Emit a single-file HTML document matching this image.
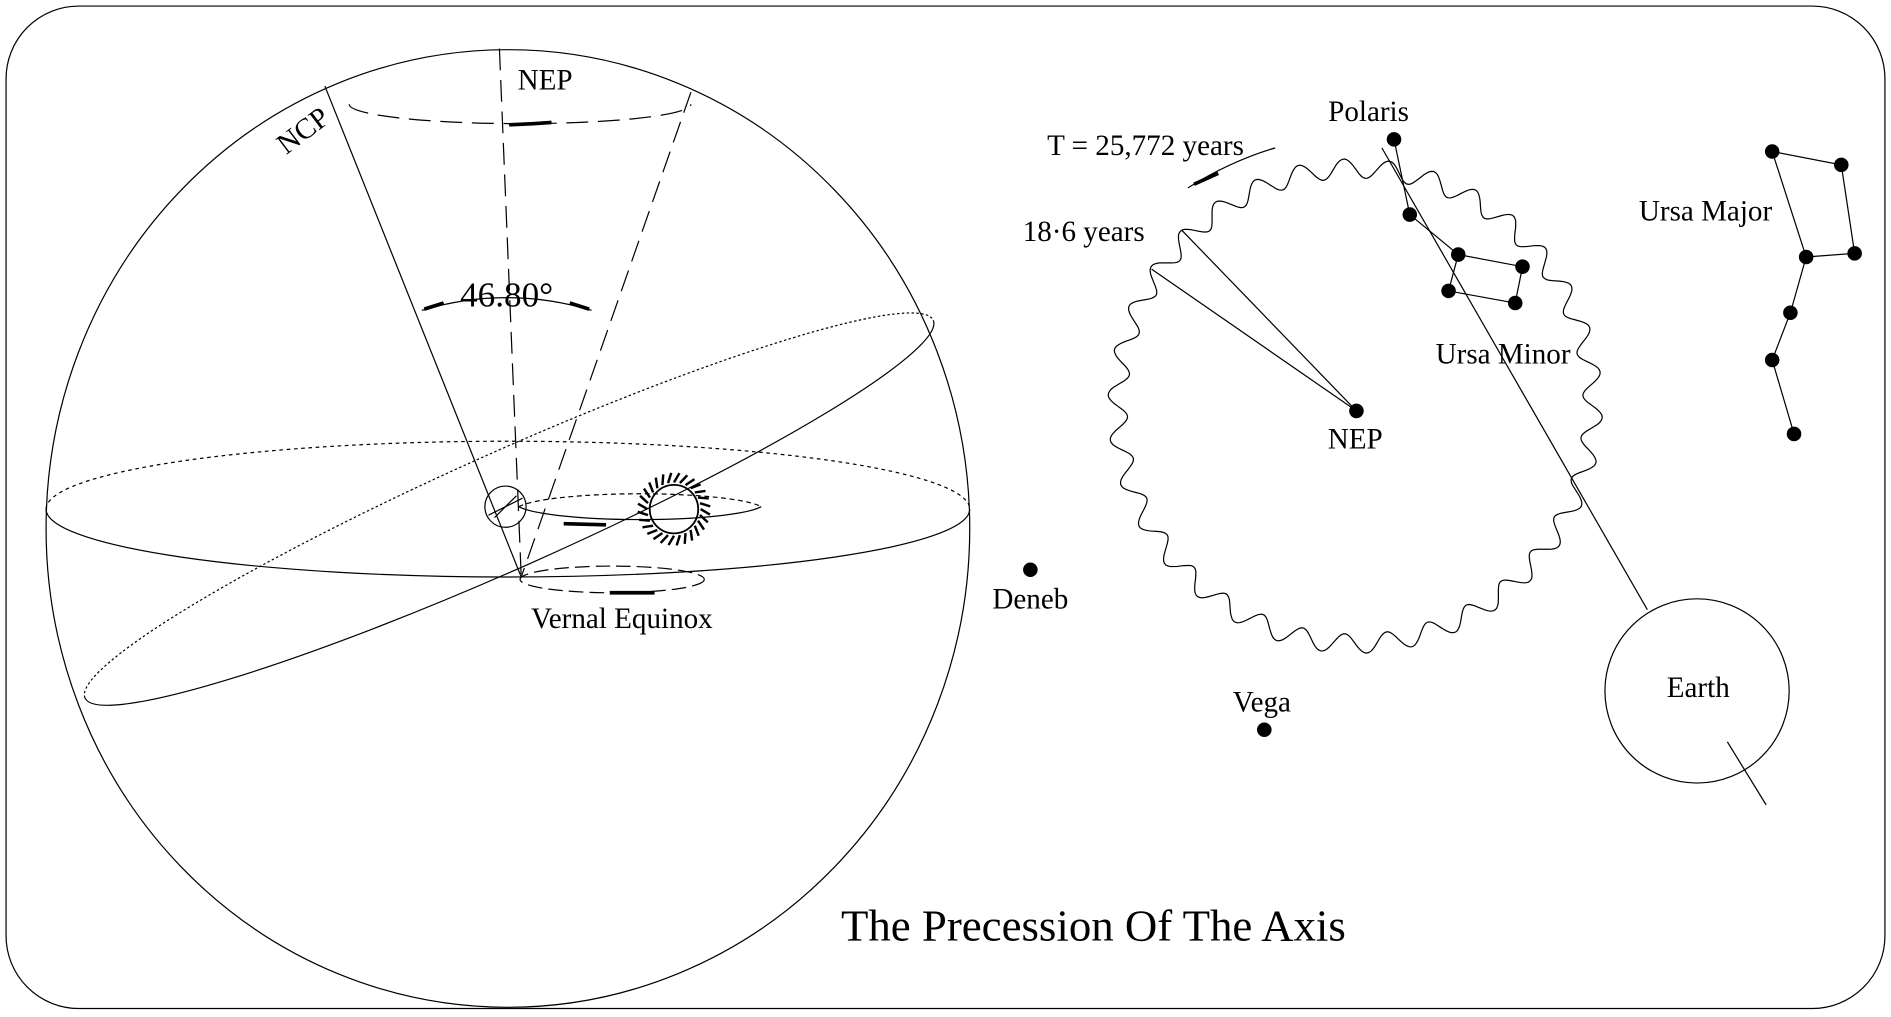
<!DOCTYPE html>
<html><head><meta charset="utf-8"><style>
html,body{margin:0;padding:0;background:#fff;}
svg{display:block;}
text{font-family:"Liberation Serif",serif;fill:#000;}
</style></head><body>
<svg width="1891" height="1017" viewBox="0 0 1560 839" preserveAspectRatio="none" xmlns="http://www.w3.org/2000/svg">
<g fill="none" stroke="#000" stroke-width="1">
<rect x="5" y="5" width="1550" height="827" rx="60" ry="60"/>
<!-- sphere -->
<ellipse cx="419" cy="436" rx="381" ry="395"/>
<!-- equator -->
<path d="M38,420 A381,56 0 0 1 800,420" stroke-dasharray="3,3"/>
<path d="M38,420 A381,56 0 0 0 800,420"/>
<!-- ecliptic -->
<g transform="rotate(-24 420 420)">
<path d="M37,420 A383,48 0 0 1 803,420" stroke-dasharray="2,2"/>
<path d="M37,420 A383,48 0 0 0 803,420"/>
</g>
<!-- NCP line -->
<line x1="268" y1="71" x2="430" y2="476"/>
<!-- NEP vertical dashed -->
<line x1="412" y1="40" x2="430" y2="476" stroke-dasharray="18,8"/>
<!-- cone -->
<line x1="570" y1="76" x2="430" y2="476" stroke-dasharray="18,8"/>
<path d="M288,86 A141,16 0 0 0 570,86" stroke-dasharray="18,8"/>
<path d="M420,103 L440,102 L455,101" stroke-width="3"/>
<!-- angle arc -->
<path d="M348,256 Q418,235 488,256"/>
<path d="M350,255 L366,250" stroke-width="3"/>
<path d="M486,255 L470,250" stroke-width="3"/>
<!-- small circle and orbit -->
<circle cx="417" cy="418" r="17"/>
<line x1="408" y1="427" x2="426" y2="409"/>
<line x1="403" y1="425" x2="431" y2="411"/>
<path d="M428,418 A103,14 0 0 1 628,418" stroke-dasharray="4,3"/>
<path d="M428,418 A103,14 0 0 0 628,418"/>
<path d="M465,432 L500,433" stroke-width="3"/>
<ellipse cx="505" cy="478" rx="76" ry="11" stroke-dasharray="12,5"/>
<path d="M503,489 L540,489" stroke-width="3"/>
<circle cx="556" cy="420" r="20" stroke-width="1.5"/>
<g id="rays" stroke-width="2"></g>
<!-- right side -->
<path id="wave" d=""/>
<line x1="1119" y1="339" x2="950" y2="222"/>
<line x1="1119" y1="339" x2="975" y2="190"/>
<path d="M980,155 Q1015,133 1052,122"/>
<path d="M985,152 L1005,143" stroke-width="3"/>
<line x1="1140" y1="122" x2="1359" y2="503"/>
<line x1="1425" y1="612" x2="1457" y2="664"/>
<circle cx="1400" cy="570" r="76"/>
<polyline points="1150,115 1163,177 1203,210 1256,220 1250,250 1195,240 1203,210"/>
<polyline points="1490,212 1462,125 1519,136 1530,209 1490,212 1477,258 1462,297 1480,358"/>
</g>
<g fill="#000">
<circle cx="1150" cy="115" r="6"/><circle cx="1163" cy="177" r="6"/><circle cx="1203" cy="210" r="6"/>
<circle cx="1256" cy="220" r="6"/><circle cx="1195" cy="240" r="6"/><circle cx="1250" cy="250" r="6"/>
<circle cx="1462" cy="125" r="6"/><circle cx="1519" cy="136" r="6"/><circle cx="1530" cy="209" r="6"/>
<circle cx="1490" cy="212" r="6"/><circle cx="1477" cy="258" r="6"/><circle cx="1462" cy="297" r="6"/>
<circle cx="1480" cy="358" r="6"/>
<circle cx="1119" cy="339" r="6"/><circle cx="850" cy="470" r="6"/><circle cx="1043" cy="602" r="6"/>
</g>
<g font-size="24">
<text x="427" y="74">NEP</text>
<text x="236" y="128" transform="rotate(-37 236 128)">NCP</text>
<text x="418" y="253" font-size="29" text-anchor="middle">46.80°</text>
<text x="513" y="518" text-anchor="middle">Vernal Equinox</text>
<text x="1129" y="100" text-anchor="middle">Polaris</text>
<text x="945" y="128" text-anchor="middle">T = 25,772 years</text>
<text x="894" y="199" text-anchor="middle">18·6 years</text>
<text x="1240" y="300" text-anchor="middle">Ursa Minor</text>
<text x="1407" y="182" text-anchor="middle">Ursa Major</text>
<text x="1118" y="370" text-anchor="middle">NEP</text>
<text x="850" y="502" text-anchor="middle">Deneb</text>
<text x="1041" y="587" text-anchor="middle">Vega</text>
<text x="1401" y="575" text-anchor="middle">Earth</text>
<text x="902" y="776" font-size="37" text-anchor="middle">The Precession Of The Axis</text>
</g>
</svg>
<script>
(function(){
var cx=1118,cy=335,R=196,A=8,N=34,d="";
for(var i=0;i<=720;i++){var t=i/720*2*Math.PI;var r=R+A*Math.sin(N*t);
var x=cx+r*Math.cos(t),y=cy+r*Math.sin(t);d+=(i?"L":"M")+x.toFixed(1)+","+y.toFixed(1);}
document.getElementById("wave").setAttribute("d",d+"Z");
var g=document.getElementById("rays"),s="";
for(var k=0;k<28;k++){var a=k/28*2*Math.PI;var x1=556+22*Math.cos(a),y1=420+22*Math.sin(a),x2=556+30*Math.cos(a+0.15),y2=420+30*Math.sin(a+0.15);
s+='<line x1="'+x1+'" y1="'+y1+'" x2="'+x2+'" y2="'+y2+'"/>';}
g.innerHTML=s;
})();
</script>
</body></html>
